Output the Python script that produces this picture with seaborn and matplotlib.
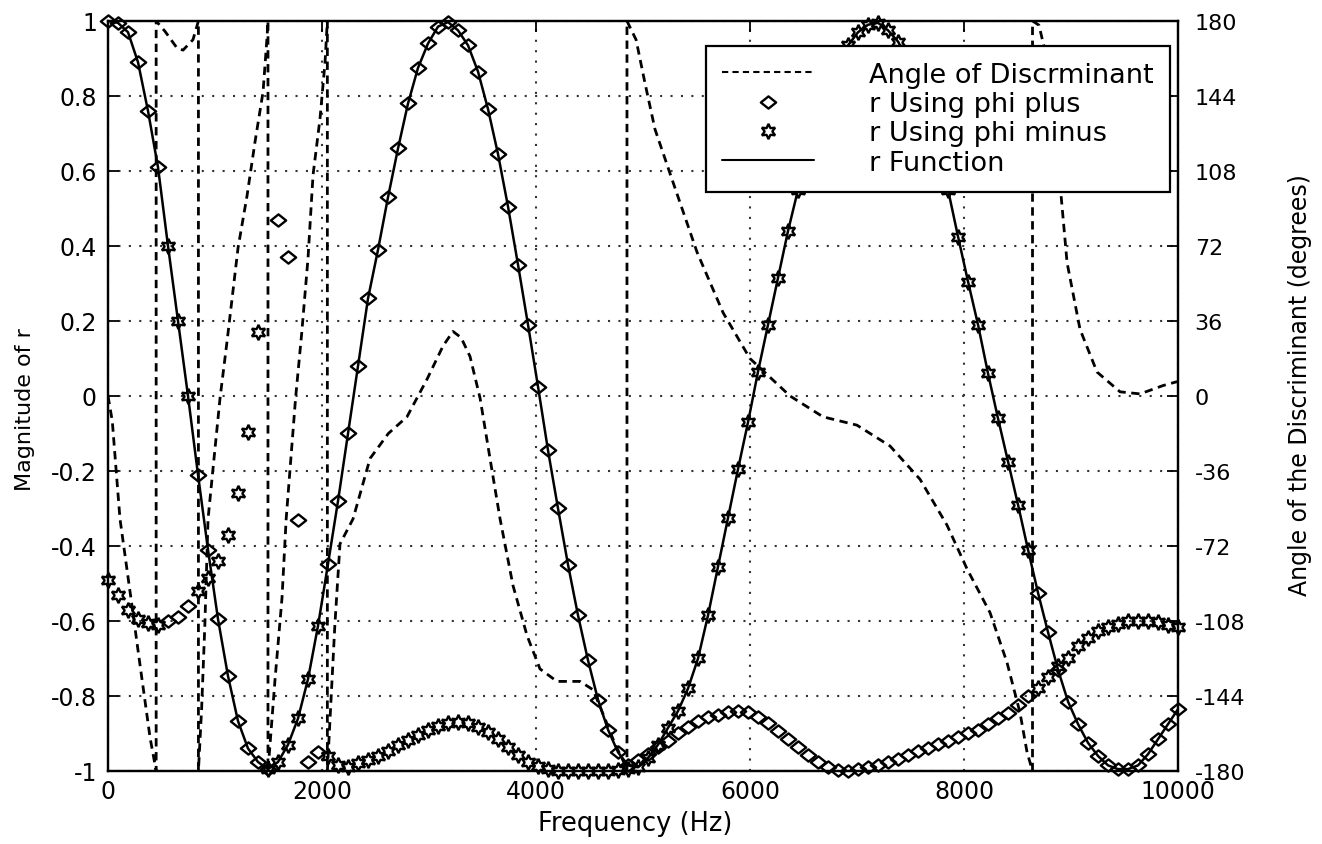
import numpy as np
import matplotlib
matplotlib.use("Agg")
import matplotlib.pyplot as plt
import seaborn as sns
from matplotlib.lines import Line2D
from matplotlib.path import Path

# ---------------- data ----------------
n_points = 108
freq = np.linspace(0, 10000, n_points)          # sampling grid of the markers (Hz)

r_function = [
    1.0, 0.995, 0.97, 0.89, 0.76, 0.61, 0.40, 0.20, 0.0, -0.21,
    -0.41, -0.595, -0.747, -0.867, -0.94, -0.976, -0.995, -0.976, -0.93, -0.86,
    -0.755, -0.613, -0.448, -0.28, -0.10, 0.08, 0.26, 0.39, 0.53, 0.66,
    0.78, 0.875, 0.94, 0.985, 0.997, 0.975, 0.935, 0.865, 0.765, 0.645,
    0.505, 0.35, 0.19, 0.025, -0.145, -0.30, -0.45, -0.585, -0.705, -0.81,
    -0.89, -0.95, -0.985, -0.99, -0.965, -0.93, -0.885, -0.84, -0.78, -0.70,
    -0.585, -0.455, -0.325, -0.195, -0.07, 0.065, 0.19, 0.315, 0.44, 0.55,
    0.65, 0.74, 0.82, 0.885, 0.935, 0.97, 0.99, 0.995, 0.975, 0.945,
    0.895, 0.83, 0.75, 0.655, 0.55, 0.425, 0.305, 0.19, 0.06, -0.06,
    -0.175, -0.29, -0.41, -0.525, -0.63, -0.73, -0.815, -0.875, -0.925, -0.96,
    -0.985, -0.995, -0.995, -0.985, -0.955, -0.915, -0.875, -0.835,
]

phi_plus = [
    1.0, 0.995, 0.97, 0.89, 0.76, 0.61, -0.60, -0.59, -0.56, -0.21,
    -0.41, -0.595, -0.747, -0.867, -0.94, -0.976, -0.995, 0.47, 0.37, -0.33,
    -0.975, -0.95, -0.448, -0.28, -0.10, 0.08, 0.26, 0.39, 0.53, 0.66,
    0.78, 0.875, 0.94, 0.985, 0.997, 0.975, 0.935, 0.865, 0.765, 0.645,
    0.505, 0.35, 0.19, 0.025, -0.145, -0.30, -0.45, -0.585, -0.705, -0.81,
    -0.89, -0.95, -0.985, -0.97, -0.955, -0.937, -0.92, -0.90, -0.882, -0.866,
    -0.856, -0.851, -0.844, -0.84, -0.844, -0.857, -0.872, -0.893, -0.915, -0.937,
    -0.958, -0.976, -0.99, -0.997, -0.999, -0.995, -0.99, -0.984, -0.977, -0.968,
    -0.958, -0.948, -0.938, -0.929, -0.919, -0.91, -0.90, -0.89, -0.875, -0.86,
    -0.845, -0.825, -0.80, -0.525, -0.63, -0.73, -0.815, -0.875, -0.925, -0.96,
    -0.985, -0.995, -0.995, -0.985, -0.955, -0.915, -0.875, -0.835,
]

phi_minus = [
    -0.49, -0.53, -0.57, -0.595, -0.605, -0.61, 0.40, 0.20, 0.0, -0.52,
    -0.485, -0.44, -0.37, -0.26, -0.095, 0.17, -0.995, -0.976, -0.93, -0.86,
    -0.755, -0.613, -0.96, -0.985, -0.99, -0.98, -0.97, -0.96, -0.948, -0.932,
    -0.918, -0.903, -0.89, -0.88, -0.873, -0.87, -0.872, -0.882, -0.896, -0.915,
    -0.936, -0.958, -0.975, -0.988, -0.995, -1.0, -1.0, -1.0, -1.0, -1.0,
    -1.0, -0.998, -0.995, -0.99, -0.965, -0.93, -0.885, -0.84, -0.78, -0.70,
    -0.585, -0.455, -0.325, -0.195, -0.07, 0.065, 0.19, 0.315, 0.44, 0.55,
    0.65, 0.74, 0.82, 0.885, 0.935, 0.97, 0.99, 0.995, 0.975, 0.945,
    0.895, 0.83, 0.75, 0.655, 0.55, 0.425, 0.305, 0.19, 0.06, -0.06,
    -0.175, -0.29, -0.41, -0.78, -0.75, -0.72, -0.70, -0.668, -0.645, -0.628,
    -0.615, -0.607, -0.601, -0.599, -0.600, -0.604, -0.61, -0.616,
]

angle_freq = [
    0, 40, 75, 112, 206, 299, 393, 450, 450, 533, 645, 701, 794, 845, 845,
    875, 905, 935, 981, 1047, 1112, 1215, 1299, 1374, 1449, 1486, 1495, 1495,
    1561, 1626, 1665, 1753, 1810, 1869, 1916, 1981, 2028, 2050, 2050,
    2080, 2120, 2168, 2290, 2449, 2620, 2794, 2981, 3131, 3224, 3300, 3383,
    3477, 3570, 3664, 3785, 3916, 4037, 4196, 4411, 4533, 4645, 4738, 4832,
    4850, 4850, 4935, 5019, 5112, 5271, 5505, 5748, 5999, 6374, 6682, 6999,
    7308, 7589, 7841, 8028, 8243, 8402, 8523, 8589, 8640, 8640, 8700, 8760,
    8840, 8916, 8963, 9084, 9243, 9458, 9645, 9860, 10000,
]
angle_deg = [
    0, -12, -35, -59, -94, -129, -164, -180, 180, 175, 167, 166, 171, 180, -180,
    -150, -110, -59, -35, -1, 26, 71, 96, 122, 146, 172, 180, -180,
    -136, -97, -59, -1, 30, 66, 106, 133, 160, 180, -180,
    -150, -110, -71, -59, -30, -18, -10, 8, 24, 31, 28, 19,
    -1, -30, -59, -91, -115, -131, -137, -137, -141, -155, -167, -177,
    -180, 180, 171, 150, 128, 104, 69, 40, 18, 0, -10, -14,
    -24, -40, -62, -83, -104, -128, -152, -171, -180, 180, 178, 165,
    135, 91, 64, 32, 11.5, 2, 1, 5, 7,
]

x_ticks = [0, 2000, 4000, 6000, 8000, 10000]
x_tick_labels = ["0", "2000", "4000", "6000", "8000", "10000"]
left_ticks = [-1, -0.8, -0.6, -0.4, -0.2, 0, 0.2, 0.4, 0.6, 0.8, 1]
left_tick_labels = ["-1", "-0.8", "-0.6", "-0.4", "-0.2", "0",
                    "0.2", "0.4", "0.6", "0.8", "1"]
right_ticks = [-180, -144, -108, -72, -36, 0, 36, 72, 108, 144, 180]
right_tick_labels = [str(t) for t in right_ticks]
legend_labels = ["Angle of Discrminant", "r Using phi plus",
                 "r Using phi minus", "r Function"]

# ---------------- style ----------------
sns.set_style("white")
plt.rcParams["font.family"] = ["DejaVu Sans"]
plt.rcParams["axes.unicode_minus"] = False
plt.rcParams["text.color"] = "black"
plt.rcParams["axes.labelcolor"] = "black"

diamond = Path([(0, -0.8), (1, 0), (0, 0.8), (-1, 0), (0, -0.8)],
               [Path.MOVETO, Path.LINETO, Path.LINETO, Path.LINETO, Path.CLOSEPOLY])
star = (6, 1, 0)

fig = plt.figure(figsize=(13.22, 8.45), dpi=100)
ax = fig.add_axes([0.0817, 0.0864, 0.8094, 0.8876])
ax2 = ax.twinx()

# grid (dotted)
ax.set_axisbelow(True)
ax.grid(True, color="#333333", linestyle=(0, (1, 4)), linewidth=1.5)

# r function (solid)
sns.lineplot(x=freq, y=r_function, ax=ax, color="black", linewidth=1.8,
             estimator=None, sort=False)
# marker series
sns.lineplot(x=freq, y=phi_plus, ax=ax, color="black", linestyle="none",
             marker=diamond, markersize=11, mfc="none", mec="black", mew=1.7,
             estimator=None, sort=False, clip_on=False)
sns.lineplot(x=freq, y=phi_minus, ax=ax, color="black", linestyle="none",
             marker=star, markersize=11, mfc="none", mec="black", mew=1.7,
             estimator=None, sort=False, clip_on=False)
# angle of discriminant (dashed, right axis)
sns.lineplot(x=angle_freq, y=angle_deg, ax=ax2, color="black", linewidth=2.0,
             linestyle=(0, (3, 2)), estimator=None, sort=False)

# ---------------- axes ----------------
ax.set_xlim(0, 10000)
ax.set_ylim(-1, 1)
ax2.set_ylim(-180, 180)
ax.set_xticks(x_ticks)
ax.set_xticklabels(x_tick_labels)
ax.set_yticks(left_ticks)
ax.set_yticklabels(left_tick_labels)
ax2.set_yticks(right_ticks)
ax2.set_yticklabels(right_tick_labels)

ax.tick_params(axis="x", direction="in", length=8, width=1.3, top=True,
               labelsize=17, pad=6, colors="black")
ax.tick_params(axis="y", direction="in", length=8, width=1.3, left=True,
               right=False, labelsize=17, pad=8, colors="black")
ax2.tick_params(axis="y", direction="in", length=8, width=1.3, right=True,
                labelsize=16, pad=12, colors="black")

for a in (ax, ax2):
    for s in a.spines.values():
        s.set_color("black")
        s.set_linewidth(1.6)

ax.set_xlabel("Frequency (Hz)", fontsize=18.5)
ax.xaxis.set_label_coords(0.4925, -0.069)
ax.xaxis.label.set_va("center")
ax.set_ylabel("Magnitude of r", fontsize=16, va="center")
ax.yaxis.set_label_coords(-0.0776, 0.483)
ax2.set_ylabel("Angle of the Discriminant (degrees)", fontsize=17, va="center")
ax2.yaxis.set_label_coords(1.114, 0.516)

# ---------------- legend ----------------
handles = [
    Line2D([], [], color="black", linewidth=1.5, linestyle=(0, (3, 2))),
    Line2D([], [], color="black", linestyle="none", marker=diamond,
           markersize=11, mfc="none", mew=1.7),
    Line2D([], [], color="black", linestyle="none", marker=star,
           markersize=11, mfc="none", mew=1.7),
    Line2D([], [], color="black", linewidth=1.5),
]
leg = ax2.legend(handles, legend_labels, loc="upper left",
                 bbox_to_anchor=(0.559, 0.967), fontsize=19.5, frameon=True,
                 fancybox=False, edgecolor="black", framealpha=1,
                 handlelength=3.4, handletextpad=2.0, borderpad=0.6,
                 labelspacing=0.12, borderaxespad=0, numpoints=1,
                 labelcolor="black")
leg.get_frame().set_linewidth(1.6)
leg.set_zorder(10)

fig.savefig("out.png", dpi=100, facecolor="white")
